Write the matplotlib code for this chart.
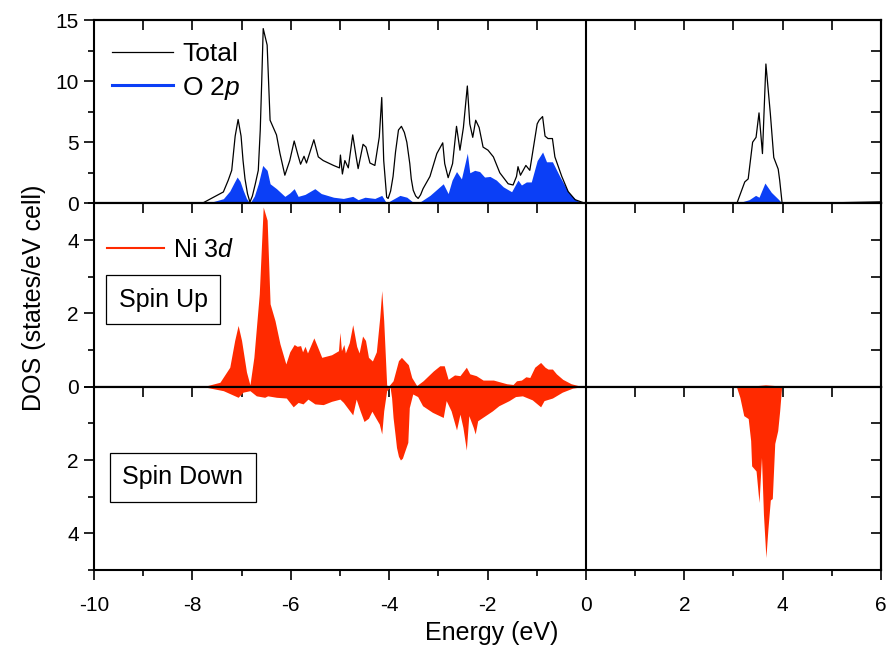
import matplotlib
matplotlib.use("Agg")
import matplotlib.pyplot as plt
from matplotlib.lines import Line2D
import numpy as np

plt.rcParams['font.family'] = ['Liberation Sans', 'DejaVu Sans']
plt.rcParams['mathtext.fontset'] = 'custom'
plt.rcParams['mathtext.rm'] = 'Liberation Sans'
plt.rcParams['mathtext.it'] = 'Liberation Sans:italic'
plt.rcParams['axes.linewidth'] = 1.5
plt.rcParams['axes.unicode_minus'] = False

# total DOS (top panel)
total_e = [-10, -7.8, -7.57, -7.37, -7.27, -7.2, -7.13, -7.07, -7.01, -6.97, -6.93, -6.88, -6.83, -6.78,
           -6.72, -6.66, -6.62, -6.59, -6.56, -6.48, -6.42,
           -6.29, -6.22, -6.12, -6.02, -5.93, -5.85, -5.8, -5.73, -5.68, -5.53, -5.44, -5.34, -5.13, -5.01,
           -4.99, -4.95, -4.9, -4.83, -4.74, -4.67, -4.63, -4.53, -4.47, -4.39, -4.29, -4.2, -4.15, -4.11,
           -4.05, -4.02, -3.97, -3.92, -3.87, -3.81, -3.75, -3.69, -3.64, -3.58, -3.55, -3.51, -3.46, -3.41,
           -3.36, -3.31, -3.17, -3.03, -2.91, -2.87,
           -2.8, -2.71, -2.63, -2.56, -2.49, -2.41, -2.36, -2.3, -2.24, -2.17, -2.09, -1.99, -1.88, -1.75,
           -1.58, -1.48, -1.41, -1.38, -1.33, -1.22, -1.14, -0.99, -0.95, -0.88, -0.83, -0.77, -0.68, -0.63,
           -0.49, -0.36, -0.22, -0.05, 0.0, 3.07, 3.23, 3.3, 3.39, 3.46, 3.52, 3.59, 3.66, 3.75, 3.82, 3.91,
           3.94, 3.99, 4.5, 5.0, 5.5, 6.0]
total_v = [0, 0, 0.5, 0.93, 1.9, 2.7, 5.5, 6.86, 5.5, 3.5, 2.0, 0.8, 0.1, 0.6,
           1.6, 2.7, 6.0, 10.0, 14.3, 12.95, 6.8,
           5.6, 4.1, 2.3, 3.5, 5.1, 3.9, 3.2, 3.85, 3.3, 5.2, 3.8, 3.5, 3.1, 2.9,
           3.95, 2.4, 3.5, 2.9, 5.6, 3.8, 2.84, 4.83, 4.6, 3.3, 3.1, 5.43, 8.66, 3.5,
           0.5, 0.4, 1.0, 2.2, 4.2, 6.0, 6.3, 5.8, 5.0, 3.25, 2.0, 1.07, 0.6, 0.4,
           0.7, 1.2, 2.2, 4.07, 4.95, 3.25,
           2.1, 3.25, 6.3, 4.35, 6.2, 9.6, 6.5, 5.4, 6.8, 6.2, 4.6, 4.35, 3.8, 2.5,
           1.6, 1.5, 2.2, 3.0, 2.3, 3.1, 2.7, 6.5, 6.8, 7.1, 5.5, 5.3, 5.3, 3.8,
           2.2, 0.96, 0.3, 0.05, 0, 0, 1.75, 2.0, 5.0, 5.4, 7.4, 4.07, 11.4, 7.35, 3.75, 2.8,
           1.9, 0, 0.02, 0.04, 0.08, 0.12]

# O 2p partial DOS
o2p_e = [-10, -7.8, -7.57, -7.37, -7.24, -7.15, -7.09, -7.03, -6.97, -6.9, -6.83, -6.74, -6.66, -6.57,
         -6.48, -6.42, -6.29, -6.12,
         -6.02, -5.93, -5.85, -5.71, -5.51, -5.38, -5.13, -4.93, -4.74, -4.63, -4.49, -4.29, -4.15, -4.05,
         -3.98, -3.78, -3.64, -3.51, -3.37, -3.17, -2.9, -2.8, -2.72, -2.63, -2.53, -2.41, -2.36, -2.26,
         -2.16, -2.06, -1.95, -1.82, -1.68, -1.51, -1.38, -1.31, -1.21, -1.11, -0.99, -0.88, -0.8, -0.68,
         -0.53, -0.36, -0.19, 0.0, 3.07, 3.32, 3.45, 3.52, 3.64, 3.77, 3.91, 3.99, 4.5, 5.0, 5.5, 6.0]
o2p_v = [0, 0, 0.15, 0.38, 1.0, 1.7, 2.15, 1.8, 1.1, 0.4, 0, 0.6, 1.6, 3.1,
         2.7, 1.6, 1.2, 0.57,
         0.85, 1.2, 0.57, 0.73, 1.2, 0.8, 0.5, 0.4, 0.57, 0.3, 0.5, 0.4, 0.65, 0,
         0.2, 0.65, 0.5, 0.08, 0.12, 0.65, 1.6, 0.8, 1.9, 2.6, 2.0, 4.1, 2.5, 2.7,
         2.6, 2.15, 2.2, 1.9, 1.35, 0.95, 1.9, 1.5, 1.75, 1.75, 3.5, 4.2, 3.4, 3.4,
         2.2, 0.96, 0.25, 0, 0, 0.3, 0.65, 0.5, 1.66, 0.9, 0.35, 0, 0.02, 0.04, 0.07, 0.1]

# Ni 3d spin up
up_e = [-10, -7.78, -7.44, -7.24, -7.14, -7.07, -7.0, -6.9, -6.83, -6.75, -6.64, -6.56, -6.48, -6.42,
        -6.32, -6.22, -6.1, -6.02, -5.93, -5.87, -5.8, -5.76, -5.71, -5.66, -5.53, -5.46, -5.37, -5.17,
        -5.03, -5.0, -4.97, -4.92, -4.89, -4.81, -4.74, -4.66, -4.61, -4.54, -4.48, -4.42, -4.34, -4.26,
        -4.19, -4.15, -4.11, -4.05, -4.02, -3.92, -3.81, -3.75, -3.61, -3.54, -3.44, -3.31, -3.1, -2.97,
        -2.88, -2.8, -2.67, -2.56, -2.43, -2.36, -2.23, -2.09, -1.88, -1.61, -1.48, -1.41, -1.31, -1.22,
        -1.14, -1.04, -0.92, -0.83, -0.77, -0.68, -0.6, -0.47, -0.3, -0.1, 0.0, 3.2, 3.4, 3.65, 3.85, 4.0, 6.0]
up_v = [0, 0, 0.12, 0.53, 1.26, 1.67, 1.26, 0.4, 0.05, 0.8, 2.53, 4.9, 4.54, 2.26,
        1.8, 1.17, 0.62, 0.95, 1.15, 1.1, 1.12, 0.95, 1.1, 0.92, 1.33, 1.1, 0.8, 0.87,
        0.98, 1.48, 0.98, 1.15, 0.92, 1.2, 1.69, 1.1, 0.92, 1.38, 1.26, 0.8, 0.7, 0.95,
        1.9, 2.62, 1.8, 0.05, 0.0, 0.16, 0.71, 0.8, 0.6, 0.25, 0.03, 0.16, 0.43, 0.57,
        0.57, 0.2, 0.32, 0.3, 0.53, 0.35, 0.3, 0.18, 0.18, 0.08, 0.06, 0.16, 0.18, 0.27,
        0.25, 0.53, 0.66, 0.53, 0.48, 0.48, 0.35, 0.2, 0.08, 0.01, 0, 0, 0.02, 0.05, 0.03, 0, 0]

# Ni 3d spin down
dn_e = [-10, -7.78, -7.37, -7.07, -6.97, -6.83, -6.7, -6.53, -6.47, -6.29, -6.09, -5.95, -5.85, -5.75,
        -5.65, -5.51, -5.34, -5.17, -5.0, -4.93, -4.83, -4.74, -4.67, -4.59, -4.51, -4.42, -4.35, -4.27,
        -4.2, -4.15, -4.11, -4.05, -3.98, -3.95, -3.92, -3.88, -3.85, -3.81, -3.77, -3.73, -3.69, -3.62,
        -3.59, -3.52, -3.42, -3.32,
        -3.12, -2.9, -2.84, -2.74, -2.63, -2.56, -2.5, -2.43, -2.38, -2.29, -2.25, -2.2, -2.1, -2.0,
        -1.9, -1.77, -1.56, -1.43, -1.29, -1.09, -0.92, -0.85, -0.68, -0.48, -0.27, -0.07, 3.06, 3.13,
        3.21, 3.3, 3.35, 3.37, 3.46, 3.52, 3.57, 3.61, 3.66, 3.7, 3.75, 3.79, 3.84, 3.9, 3.94, 3.98, 6.0]
dn_v = [0, 0, 0.11, 0.29, 0.15, 0.11, 0.25, 0.29, 0.25, 0.29, 0.31, 0.55, 0.43, 0.47,
        0.34, 0.47, 0.49, 0.4, 0.34, 0.43, 0.61, 0.77, 0.34, 0.66, 0.95, 0.86, 0.67, 0.86,
        1.02, 1.29, 0.66, 0.11, 0.02, 0.3, 0.84, 1.3, 1.66, 1.9, 2.0, 1.95, 1.79, 1.52,
        0.57, 0.2, 0.27, 0.52,
        0.7, 0.84, 0.38, 0.66, 1.18, 0.75, 1.11, 1.73, 0.79, 1.11, 1.29, 0.93, 0.84, 0.75,
        0.66, 0.52, 0.38, 0.27, 0.25, 0.36, 0.55, 0.38, 0.31, 0.15, 0.04, 0, 0, 0.29,
        0.79, 0.87, 1.47, 2.16, 2.3, 3.16, 1.93, 3.48, 4.66, 3.9, 3.09, 3.05, 1.55, 1.2, 0.66, 0, 0]

blue = '#0b3ff6'
red = '#ff2a00'

fig = plt.figure(figsize=(8.94, 6.55), dpi=100)
gs = fig.add_gridspec(3, 1, left=94/894, right=881/894, top=1-20/655, bottom=1-570/655, hspace=0)
ax0 = fig.add_subplot(gs[0])
ax1 = fig.add_subplot(gs[1], sharex=ax0)
ax2 = fig.add_subplot(gs[2], sharex=ax0)

# top: total + O 2p
ax0.fill_between(o2p_e, o2p_v, color=blue, lw=0)
ax0.plot(total_e, total_v, color='k', lw=0.9)
ax0.set_ylim(0, 15)
ax0.set_yticks([0, 5, 10, 15])
ax0.set_yticks([2.5, 7.5, 12.5], minor=True)

# middle: spin up
ax1.fill_between(up_e, up_v, color=red, lw=0)
ax1.set_ylim(0, 5)
ax1.set_yticks([0, 2, 4])
ax1.set_yticks([1, 3, 5], minor=True)

# bottom: spin down, drawn downward
ax2.fill_between(dn_e, dn_v, color=red, lw=0)
ax2.set_ylim(5, 0)
ax2.set_yticks([0, 2, 4])
ax2.set_yticklabels(['', '2', '4'])
ax2.set_yticks([1, 3, 5], minor=True)

ax2.set_xlim(-10, 6)
ax2.set_xticks(np.arange(-10, 7, 2))
ax2.set_xticks(np.arange(-9, 6, 2), minor=True)

right_ticks = [np.arange(0, 15.1, 2.5), np.arange(0, 5.1, 1), np.arange(0, 5.1, 1)]
for ax, rt in zip([ax0, ax1, ax2], right_ticks):
    ax.axvline(0, color='k', lw=1.5)
    ax.tick_params(which='major', direction='out', length=7.5, width=1.2, labelsize=15)
    ax.tick_params(which='minor', direction='out', length=4.5, width=1.2)
    ax.tick_params(axis='x', labelbottom=(ax is ax2), labelsize=15, pad=11)
    sx = ax.secondary_xaxis('top')
    sx.set_xticks(np.arange(-10, 7, 1))
    sx.tick_params(direction='in', length=7.5, width=1.2, labeltop=False)
    sy = ax.secondary_yaxis('right')
    sy.set_yticks(rt)
    sy.tick_params(direction='in', length=7.5, width=1.2, labelright=False)

# legends
h_tot = Line2D([], [], color='k', lw=0.9)
h_o = Line2D([], [], color=blue, lw=2.2)
ax0.legend([h_tot, h_o], ['Total', 'O 2$\\mathit{p}$'], loc='upper left', bbox_to_anchor=(0.023, 0.88),
           frameon=False, fontsize=19, handlelength=2.3, handletextpad=0.35, borderpad=0,
           borderaxespad=0, labelspacing=0.33)
h_ni = Line2D([], [], color=red, lw=1.5)
ax1.legend([h_ni], ['Ni 3$\\mathit{d}$'], loc='upper left', bbox_to_anchor=(0.0165, 0.81),
           frameon=False, fontsize=18, handlelength=2.3, handletextpad=0.35, borderpad=0,
           borderaxespad=0)

box = dict(boxstyle='square,pad=0.5', fc='white', ec='k', lw=0.9)
ax1.text(0.0877, 0.473, 'Spin Up', transform=ax1.transAxes, ha='center', va='center',
         fontsize=18, bbox=box)
ax2.text(0.113, 0.505, 'Spin Down', transform=ax2.transAxes, ha='center', va='center',
         fontsize=18, bbox=box)

fig.text(492/894, 1-633/655, 'Energy (eV)', ha='center', va='center', fontsize=18)
fig.text(34/894, 1-298/655, 'DOS (states/eV cell)', ha='center', va='center', rotation=90, fontsize=18)

fig.savefig('out.png', dpi=100)
